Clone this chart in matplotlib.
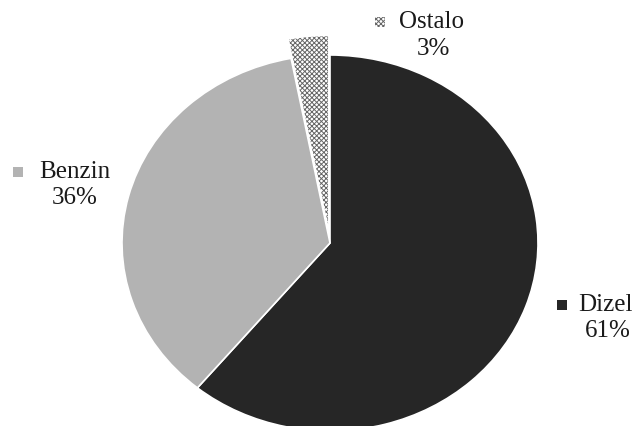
import matplotlib
matplotlib.use("Agg")
import matplotlib.pyplot as plt
from matplotlib.patches import Rectangle

categories = ["Dizel", "Benzin", "Ostalo"]
values = [61, 36, 3]
pct_labels = ["61%", "36%", "3%"]

colors = ["#262626", "#b3b3b3", "white"]
explode = [0, 0, 0.1]

plt.rcParams["hatch.linewidth"] = 0.7

W, H = 638, 426
fig = plt.figure(figsize=(W / 100, H / 100), dpi=100)
ax = fig.add_axes([0, 0, 1, 1])

cx, cy, rx, ry = 330, 243, 208, 188
wedges, _ = ax.pie(values, colors=colors, startangle=90, counterclock=False,
                   explode=explode,
                   wedgeprops=dict(edgecolor="white", linewidth=1.2))
wedges[2].set_hatch("xxxxxxx")
wedges[2].set_edgecolor("#666666")
wedges[2].set_linewidth(0)
ax.set_aspect("auto")
ax.set_xlim(-cx / rx, (W - cx) / rx)
ax.set_ylim(-(H - cy) / ry, cy / ry)
ax.axis("off")

font = dict(family="Liberation Serif", fontsize=18, color="#1a1a1a")

def px(x, y):
    return x / W, 1 - y / H

# label positions (pixel coords): marker center, name left, pct center
labels = [
    (categories[0], pct_labels[0], (562, 305), (578, 305), (608, 331)),
    (categories[1], pct_labels[1], (18, 172), (39, 172), (75, 198)),
    (categories[2], pct_labels[2], (380, 22), (399, 22), (433, 49)),
]
for i, (name, pct, mk, nm, pc) in enumerate(labels):
    s = 10
    fx, fy = px(mk[0] - s / 2, mk[1] + s / 2)
    r = Rectangle((fx, fy), s / W, s / H, transform=fig.transFigure,
                  facecolor=colors[i], edgecolor="#666666" if i == 2 else colors[i],
                  linewidth=0, hatch="xxxxxxx" if i == 2 else None)
    fig.add_artist(r)
    fig.text(*px(*nm), name, ha="left", va="center", **font)
    fig.text(*px(*pc), pct, ha="center", va="center", **font)

fig.savefig("out.png", dpi=100)
